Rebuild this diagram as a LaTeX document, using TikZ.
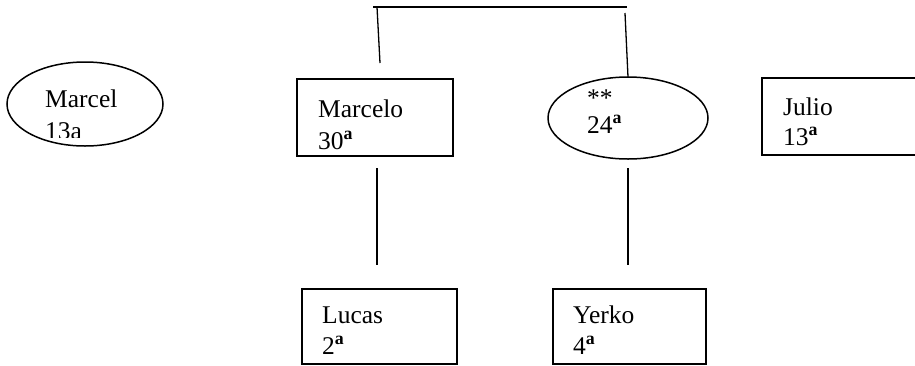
\documentclass[tikz,border=0pt]{standalone}
\usepackage{fontspec}
\setmainfont{Liberation Serif}
\usetikzlibrary{shapes.geometric}
\newcommand{\ordsup}{\textsuperscript{\textbf{a}}}
\begin{document}
\begin{tikzpicture}[x=1pt,y=-1pt,
  boxshape/.style={draw, line width=1.6pt, inner sep=0pt, anchor=north west},
  ellshape/.style={draw, ellipse, line width=1.5pt, inner sep=0pt},
  lbl/.style={anchor=base west, inner sep=0pt, font=\fontsize{25.5}{25.5}\selectfont},
  conn/.style={line width=1.3pt}]
\useasboundingbox (0,0) rectangle (915,365);
\fill[white] (0,0) rectangle (915,365);
\clip (0,0) rectangle (915,365);
% shapes
\node[ellshape, minimum width=156pt, minimum height=84pt] (marcel) at (85,104) {};
\node[boxshape, minimum width=156pt, minimum height=77pt] (marcelo) at (296,78) {};
\node[ellshape, minimum width=160pt, minimum height=82pt] (mujer) at (628,118) {};
\coordinate (j1) at (940,78);
\coordinate (j2) at (762,78);
\coordinate (j3) at (762,155);
\coordinate (j4) at (940,155);
\draw[line width=1.6pt] (j1) -- (j2) -- (j3) -- (j4);
\node[boxshape, minimum width=155pt, minimum height=75pt] (lucas) at (301,288) {};
\node[boxshape, minimum width=153pt, minimum height=75pt] (yerko) at (552,288) {};
% texts
\node[lbl] (t1) at (45,107) {Marcel};
\begin{scope}
\clip (0,0) rectangle (915,137);
\node[lbl] (t2) at (45,139) {13a};
\end{scope}
\node[lbl] (t3) at (318,117) {Marcelo};
\node[lbl] (t4) at (318,149) {30\ordsup};
\node[lbl] (t5) at (587,106) {**};
\node[lbl] (t6) at (587,133) {24\ordsup};
\node[lbl] (t7) at (783,115) {Julio};
\node[lbl] (t8) at (783,145) {13\ordsup};
\node[lbl] (t9) at (322,323) {Lucas};
\node[lbl] (t10) at (322,354) {2\ordsup};
\node[lbl] (t11) at (573,323) {Yerko};
\node[lbl] (t12) at (573,354) {4\ordsup};
% connectors
\coordinate (tl) at (373,7);
\coordinate (tr) at (627,7);
\coordinate (la) at (377,7);
\coordinate (lb) at (380,63);
\coordinate (ra) at (625,13);
\coordinate (rb) at (628,77);
\coordinate (ba1) at (377,168);
\coordinate (bb1) at (377,265);
\coordinate (ba2) at (628,168);
\coordinate (bb2) at (628,265);
\draw[conn] (tl) -- (tr);
\draw[conn] (la) -- (lb);
\draw[conn] (ra) -- (rb);
\draw[conn] (ba1) -- (bb1);
\draw[conn] (ba2) -- (bb2);
\end{tikzpicture}
\end{document}
